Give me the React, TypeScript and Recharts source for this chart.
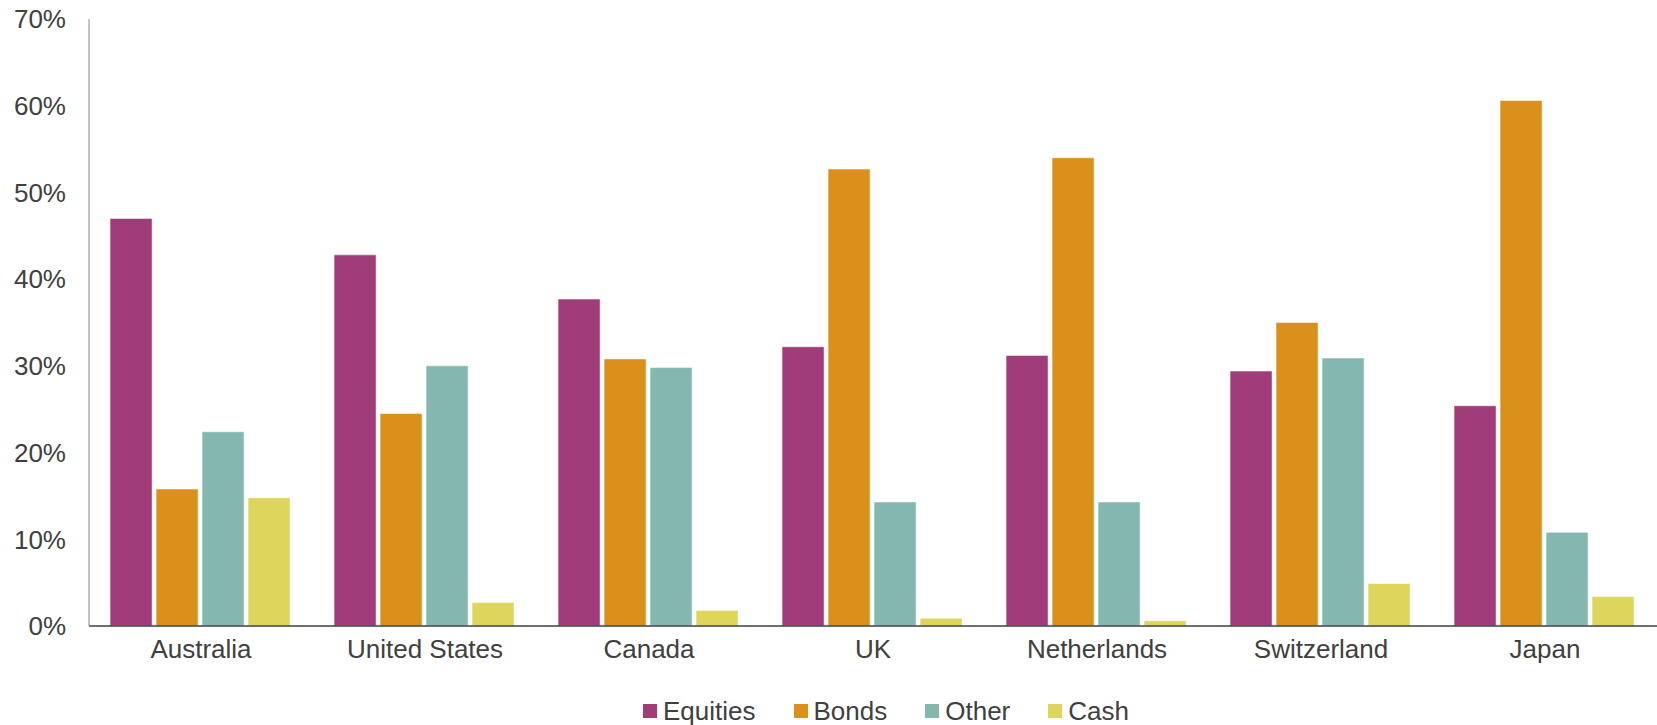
import React from 'react';
import { BarChart, Bar, XAxis, YAxis, Legend } from 'recharts';

// Asset allocation by country (percent of portfolio)
const countries = ['Australia', 'United States', 'Canada', 'UK', 'Netherlands', 'Switzerland', 'Japan'];
const equities = [47.0, 42.8, 37.7, 32.2, 31.2, 29.4, 25.4];
const bonds = [15.8, 24.5, 30.8, 52.7, 54.0, 35.0, 60.6];
const other = [22.4, 30.0, 29.8, 14.3, 14.3, 30.9, 10.8];
const cash = [14.8, 2.7, 1.8, 0.9, 0.6, 4.9, 3.4];
const yTicks = [0, 10, 20, 30, 40, 50, 60, 70];

const series = [
  { key: 'equities', name: 'Equities', color: '#A03C78' },
  { key: 'bonds', name: 'Bonds', color: '#DB901C' },
  { key: 'other', name: 'Other', color: '#84B8AF' },
  { key: 'cash', name: 'Cash', color: '#DED65B' },
];

const data = countries.map((country, i) => ({
  country,
  equities: equities[i],
  bonds: bonds[i],
  other: other[i],
  cash: cash[i],
}));

const FONT = '"Liberation Sans", Arial, sans-serif';
const TEXT = '#404040';

// Legend with square swatches, spaced like the original
const renderLegend = () => (
  <div style={{ display: 'flex', alignItems: 'center', height: 28, paddingLeft: 643, fontFamily: FONT }}>
    {series.map((s, i) => (
      <div key={s.key} style={{ display: 'flex', alignItems: 'center', marginRight: i < series.length - 1 ? 38 : 0 }}>
        <div style={{ width: 14, height: 14, background: s.color, marginRight: 6 }} />
        <span style={{ fontSize: 26, color: TEXT, lineHeight: '28px' }}>{s.name}</span>
      </div>
    ))}
  </div>
);

const App: React.FC = () => {
  return (
    <div style={{ position: 'absolute', left: 0, top: 0, width: 1657, height: 725, background: '#fff' }}>
      <BarChart
        width={1657}
        height={725}
        data={data}
        margin={{ top: 19, right: 0, left: 0, bottom: 0 }}
        barCategoryGap="9.4%"
        barGap={4}
      >
        <XAxis
          dataKey="country"
          height={71}
          tickLine={false}
          tickSize={0}
          tickMargin={14}
          axisLine={{ stroke: '#404040', strokeWidth: 1.5 }}
          tick={{ fontSize: 26, fill: TEXT, fontFamily: FONT }}
        />
        <YAxis
          width={89}
          domain={[0, 70]}
          ticks={yTicks}
          interval={0}
          tickLine={false}
          tickSize={0}
          tickMargin={23}
          axisLine={{ stroke: '#8a8a8a', strokeWidth: 1 }}
          tickFormatter={(v: number) => `${v}%`}
          tick={{ fontSize: 26, fill: TEXT, fontFamily: FONT }}
        />
        <Legend verticalAlign="bottom" content={renderLegend} wrapperStyle={{ height: 28 }} />
        {series.map((s) => (
          <Bar
            key={s.key}
            dataKey={s.key}
            name={s.name}
            fill={s.color}
            stroke="#ffffff"
            strokeOpacity={0.5}
            strokeWidth={1}
            isAnimationActive={false}
          />
        ))}
      </BarChart>
    </div>
  );
};

export default App;
